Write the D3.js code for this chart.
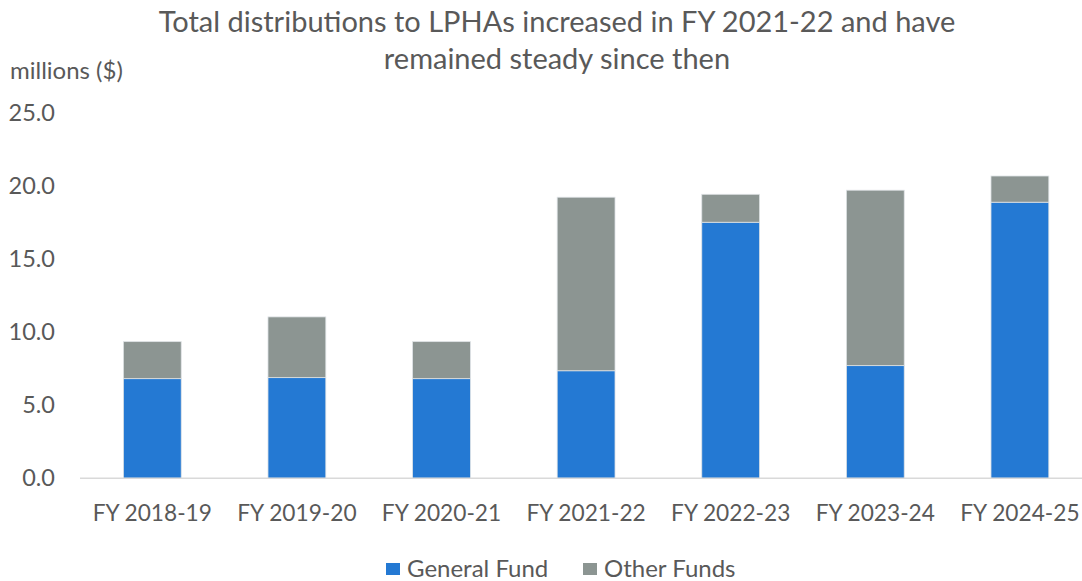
<!DOCTYPE html>
<html>
<head>
<meta charset="utf-8">
<script src="https://cdn.jsdelivr.net/npm/d3@7"></script>
<style>
  body { margin: 0; background: #fff; }
  svg { display: block; font-family: Lato, "Open Sans", sans-serif; }
</style>
</head>
<body>
<svg id="chart" width="1082" height="581"></svg>
<script>
// values (millions $)
var years = ["FY 2018-19", "FY 2019-20", "FY 2020-21", "FY 2021-22", "FY 2022-23", "FY 2023-24", "FY 2024-25"];
var generalFund = [6.81, 6.88, 6.81, 7.35, 17.50, 7.70, 18.87];
var otherFunds = [2.53, 4.15, 2.53, 11.86, 1.91, 11.99, 1.79];
var yTicks = [0, 5, 10, 15, 20, 25];
var seriesNames = ["General Fund", "Other Funds"];
var seriesColors = ["#2479d3", "#8c9592"];

var svg = d3.select("#chart");
var textColor = "#595959";

// x band: first band starts at 80, step ~144.6
var x = d3.scaleBand()
    .domain(years)
    .range([80, 80 + 144.6 * years.length])
    .paddingInner(0.6)
    .paddingOuter(0.3);

var y = d3.scaleLinear()
    .domain([0, 25])
    .range([478.3, 112.5]);

var rows = years.map(function (d, i) {
  return { year: d, "General Fund": generalFund[i], "Other Funds": otherFunds[i] };
});
var stacked = d3.stack().keys(seriesNames)(rows);

// title
var title = svg.append("text")
    .attr("text-anchor", "middle")
    .attr("fill", textColor)
    .attr("font-size", 29);
title.append("tspan").attr("x", 557).attr("y", 32).text("Total distributions to LPHAs increased in FY 2021-22 and have");
title.append("tspan").attr("x", 557).attr("y", 69).text("remained steady since then");

svg.append("text")
    .attr("x", 10).attr("y", 79)
    .attr("fill", textColor)
    .attr("font-size", 24)
    .text("millions ($)");

// bars
svg.append("g").selectAll("g")
  .data(stacked)
  .join("g")
    .attr("fill", function (d, i) { return seriesColors[i]; })
  .selectAll("rect")
  .data(function (d) { return d; })
  .join("rect")
    .attr("x", function (d) { return x(d.data.year); })
    .attr("width", x.bandwidth())
    .attr("y", function (d) { return y(d[1]); })
    .attr("height", function (d) { return y(d[0]) - y(d[1]); })
    .attr("stroke", "#dfe3e6")
    .attr("stroke-width", 0.8);

// baseline
svg.append("line")
    .attr("x1", 80).attr("x2", 1082)
    .attr("y1", y(0)).attr("y2", y(0))
    .attr("stroke", "#d9d9d9")
    .attr("stroke-width", 1.5);

// y axis labels
var yAxis = d3.axisLeft(y).tickValues(yTicks).tickFormat(d3.format(".1f")).tickSize(0).tickPadding(0);
var gy = svg.append("g").attr("transform", "translate(55,0)").call(yAxis);
gy.select(".domain").remove();
gy.selectAll("text").attr("fill", textColor).attr("font-size", 23.5).attr("font-family", "Lato, 'Open Sans', sans-serif");

// x axis labels
var xAxis = d3.axisBottom(x).tickSize(0).tickPadding(0);
var gx = svg.append("g").attr("transform", "translate(0,505)").call(xAxis);
gx.select(".domain").remove();
gx.selectAll("text").attr("fill", textColor).attr("font-size", 22.7).attr("font-family", "Lato, 'Open Sans', sans-serif");

// legend
var legendX = [386, 583];
var legend = svg.append("g").selectAll("g")
  .data(seriesNames)
  .join("g")
    .attr("transform", function (d, i) { return "translate(" + legendX[i] + ",563)"; });
legend.append("rect")
    .attr("width", 14).attr("height", 12)
    .attr("fill", function (d, i) { return seriesColors[i]; });
legend.append("text")
    .attr("x", 21).attr("y", 14)
    .attr("fill", textColor)
    .attr("font-size", 24)
    .text(function (d) { return d; });
</script>
</body>
</html>
